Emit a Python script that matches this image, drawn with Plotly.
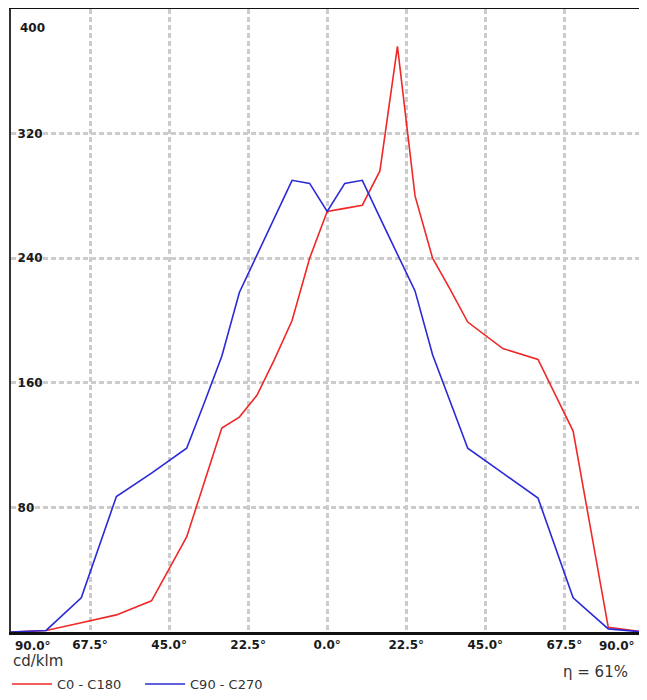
import plotly.graph_objects as go

angles = [-90, -80, -70, -60, -50, -40, -35, -30, -25, -20, -15, -10, -5, 0,
          5, 10, 15, 20, 25, 30, 35, 40, 50, 60, 70, 80, 90]
c0_c180 = [0, 1, 6, 11, 20, 61, 96, 131, 138, 152, 175, 200, 240, 270,
           272, 274, 296, 376, 280, 240, 220, 199, 182, 175, 129, 3, 0]
c90_c270 = [0, 1, 22, 87, 102, 118, 147, 177, 218, 242, 266, 290, 288, 270,
            288, 290, 266, 243, 219, 178, 148, 118, 102, 86, 22, 2, 0]

x_tickvals = [-67.5, -45, -22.5, 0, 22.5, 45, 67.5]
x_ticktext = ["67.5°", "45.0°", "22.5°", "0.0°", "22.5°", "45.0°", "67.5°"]
x_edge_label = "90.0°"
y_tickvals = [80, 160, 240, 320]
y_ticktext = ["80", "160", "240", "320"]
y_top_label = "400"
series_names = ["C0 - C180", "C90 - C270"]
unit_label = "cd/klm"
efficiency_label = "η = 61%"

font_family = "DejaVu Sans"
text_color = "#1a1a1a"
tick_font = dict(size=12, color=text_color, family=font_family, weight="bold")

fig = go.Figure()
fig.add_trace(go.Scatter(x=angles, y=c0_c180, mode="lines", name=series_names[0],
                         line=dict(color="#f02828", width=1.6)))
fig.add_trace(go.Scatter(x=angles, y=c90_c270, mode="lines", name=series_names[1],
                         line=dict(color="#2a2ad8", width=1.6)))

# The page body adds an 8px margin, so the figure is sized to fit the 647x700 window.
fig.update_layout(
    width=631, height=684,
    margin=dict(l=3, r=0, t=1, b=60, autoexpand=False),
    paper_bgcolor="white", plot_bgcolor="white",
    font=dict(family=font_family, size=12, color=text_color),
    showlegend=True,
    legend=dict(orientation="h", x=-0.0063, y=-0.0835, xanchor="left", yanchor="middle",
                font=dict(size=13, color="#333333", family=font_family),
                entrywidth=78, entrywidthmode="pixels", itemwidth=40,
                bgcolor="rgba(0,0,0,0)", tracegroupgap=0),
)
fig.update_xaxes(
    range=[-90, 88.75], tickvals=x_tickvals, ticktext=x_ticktext,
    showgrid=True, gridcolor="#cccccc", griddash="5px,3px", gridwidth=2.5,
    showline=True, linecolor="#111111", linewidth=3, mirror=True,
    zeroline=False, ticks="", layer="below traces",
    tickfont=tick_font,
)
fig.update_yaxes(
    range=[0, 400], tickvals=y_tickvals, ticktext=y_ticktext,
    ticklabelposition="inside", ticklabelstandoff=6,
    showgrid=True, gridcolor="#cccccc", griddash="5px,3px", gridwidth=2.5,
    showline=True, linecolor="#333333", linewidth=2, mirror=False,
    zeroline=False, ticks="", layer="below traces",
    tickfont=tick_font,
)

annotations = [
    dict(text=y_top_label, x=0, xref="paper", y=400, yref="y", xanchor="left", yanchor="middle",
         xshift=7, yshift=-19, showarrow=False, font=tick_font),
    dict(text=x_edge_label, x=-90, xref="x", y=0, yref="paper", xanchor="left", yanchor="top",
         xshift=2, yshift=-5, showarrow=False, font=tick_font),
    dict(text=x_edge_label, x=1, xref="paper", y=0, yref="paper", xanchor="right", yanchor="top",
         xshift=-2, yshift=-5, showarrow=False, font=tick_font),
    dict(text=unit_label, x=0, xref="paper", y=0, yref="paper", xanchor="left", yanchor="middle",
         xshift=0, yshift=-29, showarrow=False, font=dict(size=15, color="#333333")),
    dict(text=efficiency_label, x=1, xref="paper", y=0, yref="paper", xanchor="right", yanchor="middle",
         xshift=-9, yshift=-40, showarrow=False, font=dict(size=15, color="#333333")),
]
fig.update_layout(annotations=annotations)

fig.write_html("out.html")
